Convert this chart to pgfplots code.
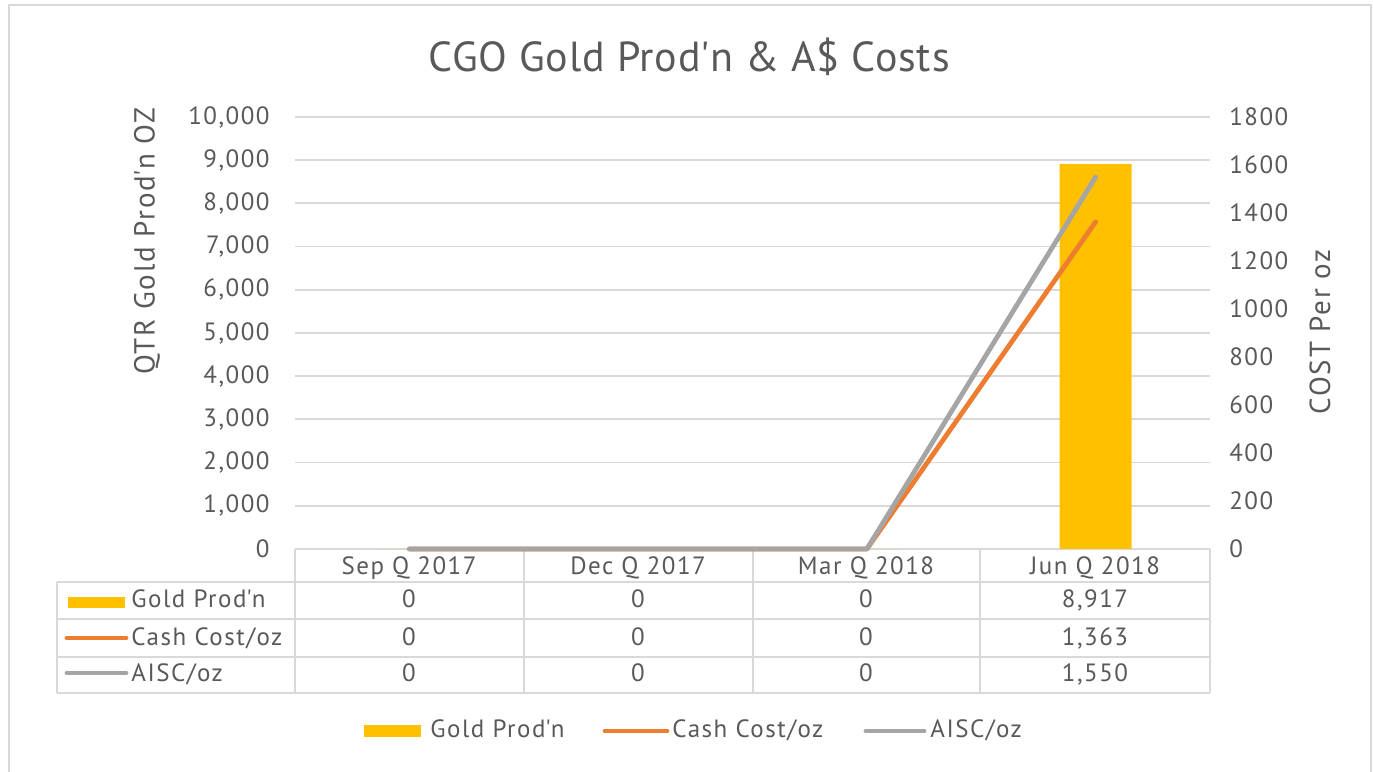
\documentclass[border=0pt]{standalone}
\usepackage{fontspec}
\setmainfont{PT Sans}[LetterSpace=6]
\newfontfamily\titlefont{PT Sans}[LetterSpace=2]
\usepackage{pgfplots}
\pgfplotsset{compat=1.18}
\definecolor{gold}{HTML}{FFC000}
\definecolor{orng}{HTML}{ED7D31}
\definecolor{gry}{HTML}{A5A5A5}
\definecolor{txt}{HTML}{595959}
\definecolor{grd}{HTML}{D9D9D9}
\newcommand{\fs}{\fontsize{12.5}{15}\selectfont}
\newcommand{\fl}{\fontsize{14.5}{17}\selectfont}
\newcommand{\q}{\textquotesingle}
\begin{document}
\begin{tikzpicture}
\path[use as bounding box] (0,0) rectangle (686.5pt,386pt);
\begin{scope}[shift={(0,386pt)}, x=0.5pt, y=-0.5pt]
  % frame
  \draw[grd, line width=1pt] (9,790) -- (9,5) -- (1371,5) -- (1371,790);
  % table grid
  \begin{scope}[grd, line width=1pt]
    \draw (295,549) -- (1210,549);
    \foreach \yy in {582,619,657,693} \draw (57,\yy) -- (1210,\yy);
    \draw (57,582) -- (57,693);
    \foreach \xx in {295,524,752.5,980,1210} \draw (\xx,549) -- (\xx,693);
  \end{scope}
\end{scope}
\begin{axis}[
  at={(147.5pt,111.5pt)}, anchor=south west,
  scale only axis, width=457.5pt, height=216pt,
  xmin=-0.5, xmax=3.5, ymin=0, ymax=10000,
  xtick=\empty, ytick={0,1000,...,10000},
  scaled y ticks=false,
  ymajorgrids, grid style={grd, line width=0.9pt},
  axis line style={draw=none}, major tick length=0,
  tick label style={font=\fs, text=txt},
  yticklabel style={anchor=east, inner sep=0pt, xshift=-12.5pt},
  /pgf/number format/assume math mode=true,
  /pgf/number format/fixed,
  /pgf/number format/1000 sep={,},
]
\addplot[ybar, bar width=36pt, fill=gold, draw=none] coordinates {(0,0)(1,0)(2,0)(3,8917)};
\end{axis}
\begin{axis}[
  at={(147.5pt,111.5pt)}, anchor=south west,
  scale only axis, width=457.5pt, height=216pt,
  xmin=-0.5, xmax=3.5, ymin=0, ymax=1800,
  xtick=\empty, ytick={0,200,...,1800},
  scaled y ticks=false,
  yticklabel pos=right,
  axis line style={draw=none}, major tick length=0,
  tick label style={font=\fs, text=txt},
  yticklabel style={anchor=west, inner sep=0pt, xshift=9.5pt},
  clip=false,
  /pgf/number format/assume math mode=true,
  /pgf/number format/fixed,
  /pgf/number format/1000 sep={},
]
\addplot[orng, line width=2.4pt, line cap=round, line join=round] coordinates {(0,0)(1,0)(2,0)(3,1363)};
\addplot[gry, line width=2.4pt, line cap=round, line join=round] coordinates {(0,0)(1,0)(2,0)(3,1550)};
\end{axis}
\begin{scope}[shift={(0,386pt)}, x=0.5pt, y=-0.5pt]
  % title
  \node[txt, font=\titlefont\fontsize{21}{25}\selectfont] at (689,57) {CGO Gold Prod\q n \& A\$ Costs};
  % axis labels
  \node[txt, font=\fl, rotate=90] at (147,241) {QTR Gold Prod\q n OZ};
  \node[txt, font=\fl, rotate=90] at (1320,332) {COST Per oz};
  \begin{scope}[txt, font=\fs]
    \node[anchor=base] at (409,575) {Sep Q 2017};
    \node[anchor=base] at (638,575) {Dec Q 2017};
    \node[anchor=base] at (866,575) {Mar Q 2018};
    \node[anchor=base] at (1095,575) {Jun Q 2018};
    \node[anchor=base west, inner sep=0pt] at (131,608) {Gold Prod\q n};
    \node[anchor=base west, inner sep=0pt] at (131,646) {Cash Cost/oz};
    \node[anchor=base west, inner sep=0pt] at (131,682) {AISC/oz};
    \foreach \xx/\a/\b/\c in {409/0/0/0, 638/0/0/0, 866/0/0/0, 1095/{8,917}/{1,363}/{1,550}} {
      \node[anchor=base] at (\xx,608) {\a};
      \node[anchor=base] at (\xx,646) {\b};
      \node[anchor=base] at (\xx,682) {\c};
    }
    % bottom legend
    \node[anchor=base west, inner sep=0pt] at (430,738) {Gold Prod\q n};
    \node[anchor=base west, inner sep=0pt] at (672,738) {Cash Cost/oz};
    \node[anchor=base west, inner sep=0pt] at (930,738) {AISC/oz};
  \end{scope}
  % keys
  \fill[gold] (68,597) rectangle (125,608);
  \draw[orng, line width=2.4pt, line cap=round] (67,638) -- (126,638);
  \draw[gry, line width=2.4pt, line cap=round] (67,673) -- (126,673);
  \fill[gold] (364,725) rectangle (421,737);
  \draw[orng, line width=2.4pt, line cap=round] (605,731) -- (667,731);
  \draw[gry, line width=2.4pt, line cap=round] (866,731) -- (924,731);
\end{scope}
\end{tikzpicture}
\end{document}
